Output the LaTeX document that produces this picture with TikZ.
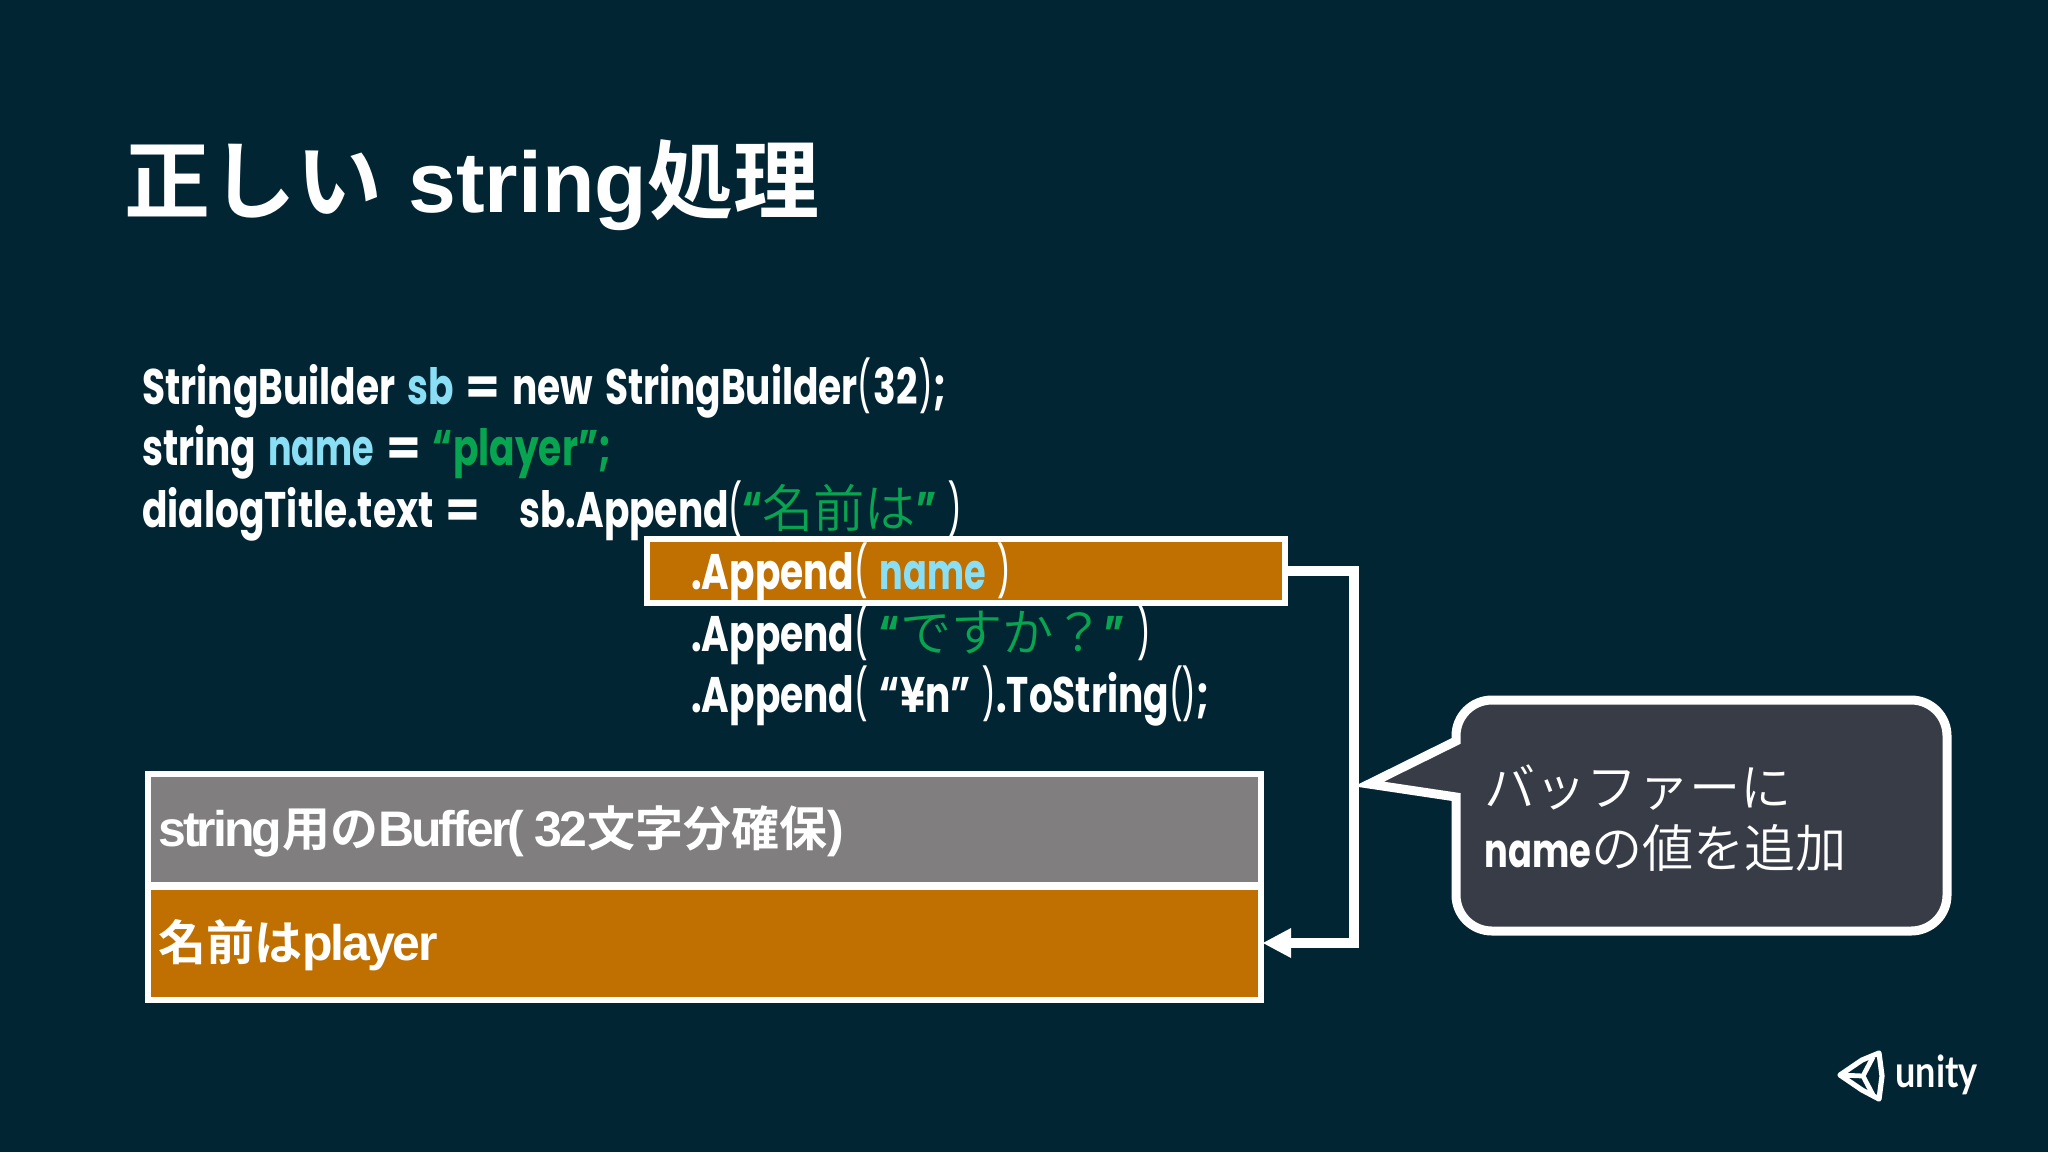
\documentclass[tikz,border=0pt]{standalone}
\usepackage{fontspec}
\newfontfamily\codef[FakeStretch=0.75,WordSpace=1.5]{Poppins Bold}
\newfontfamily\namef[FakeStretch=0.7]{Poppins Bold}
\newfontfamily\eqf{Poppins Bold}
\newfontfamily\parf[FakeStretch=0.55]{Poppins Medium}
\newfontfamily\jpl{Noto Sans CJK JP DemiLight}
\newfontfamily\jpb{Noto Sans CJK JP Bold}
\newfontfamily\lsb{Liberation Sans Bold}
\newfontfamily\lsc[LetterSpace=-4.8]{Liberation Sans Bold}
\newfontfamily\lsd[LetterSpace=-6]{Liberation Sans Bold}
\newfontfamily\uni[FakeStretch=0.82]{Lato Bold}
\definecolor{bgc}{HTML}{022534}
\definecolor{orangec}{HTML}{BF7000}
\definecolor{grayc}{HTML}{807E7F}
\definecolor{bubblec}{HTML}{373C46}
\definecolor{kw}{HTML}{8ADFF5}
\definecolor{str}{HTML}{08A550}
\newcommand{\js}[1]{{\jpl\fontsize{25.6}{25.6}\selectfont #1}}
\newcommand{\LP}{{\parf(}}
\newcommand{\RP}{{\parf)}}
\newcommand{\EQ}{{\eqf=}}
\newcommand{\NM}{\textcolor{kw}{\namef name}}
\newcommand{\lat}[1]{{\lsc\fontsize{25}{25}\selectfont #1}}
\newcommand{\latb}[1]{{\lsd\fontsize{25}{25}\selectfont #1}}
\tikzset{
 x=0.5pt,y=-0.5pt,
 code/.style={anchor=base west,inner sep=0,text=white,font=\codef\fontsize{25}{25}\selectfont},
 box/.style={draw=white,line width=3pt,inner sep=0,anchor=north west},
 boxtext/.style={anchor=base west,inner sep=0,text=white,font=\jpb\fontsize{24}{24}\selectfont},
 conn/.style={draw=white,line width=4.75pt},
}
\begin{document}
\begin{tikzpicture}
\fill[bgc] (0,0) rectangle (2048,1152);
\useasboundingbox (0,0) rectangle (2048,1152);
\node[anchor=base west,inner sep=0,text=white] (title) at (124,212) {\jpb\fontsize{43}{43}\selectfont 正しい\hspace{13pt}{\lsb string}処理};
\node[code] (l1) at (142,404) {StringBuilder \textcolor{kw}{sb} \EQ{} new StringBuilder\LP\hspace{1pt}32\hspace{1pt}\RP;};
\node[code] (l2) at (142,465) {string \NM{} \EQ{} \textcolor{str}{“player”;}};
\node[code] (l3) at (142,527) {dialogTitle.text \EQ};
\node[code] (l3b) at (519,527) {sb.Append\LP\textcolor{str}{“\js{名前は}”} \RP};
\node[box,fill=orangec,minimum width=318.75pt,minimum height=32pt] (hl) at (644,536) {};
\node[code] (l4) at (691,589) {.Append\LP{} \NM{} \RP};
\node[code] (l5) at (691,651) {.Append\LP{} \textcolor{str}{“\js{ですか？}”} \RP};
\node[code] (l6) at (691,712) {.Append\LP{} “¥n” \RP.ToString\LP\RP;};
\node[box,fill=grayc,minimum width=556.5pt,minimum height=55.5pt] (buf) at (145,771) {};
\node[box,fill=orangec,minimum width=556.5pt,minimum height=56.5pt] (fillb) at (145,884) {};
\node[boxtext] (t1) at (158,846) {\latb{string}用の\latb{Buffer( 32}文字分確保\latb{)}};
\node[boxtext] (t2) at (158,960) {名前は\lat{player}};
\coordinate (bend2) at (1354,943);
\coordinate (tip) at (1263,943);
\coordinate (base) at (1291,943);
\draw[conn] (hl.east) -| (bend2) -- (base);
\fill[white] (tip) -- (1291,928) -- (1291,958) -- cycle;
\draw[draw=white,line width=4.5pt,fill=bubblec,line join=miter]
 (1456,741) -- (1456,736) .. controls (1456,716) and (1472,700) .. (1492,700) -- (1911,700) .. controls (1931,700) and (1947,716) .. (1947,736) -- (1947,895) .. controls (1947,915) and (1931,931) .. (1911,931) -- (1492,931) .. controls (1472,931) and (1456,915) .. (1456,895) -- (1456,797) -- (1369,784) -- cycle;
\node[anchor=base west,inner sep=0,text=white] (c1) at (1484,806) {\js{バッファーに}};
\node[anchor=base west,inner sep=0,text=white] (c2) at (1484,867) {{\codef\fontsize{23.5}{23.5}\selectfont name}\js{の値を追加}};
\draw[white,line width=2.6pt,line join=round,fill=none] (1840,1075) -- (1862,1060) -- (1879,1053) -- (1882,1076) -- (1879,1099) -- (1862,1090) -- cycle;
\draw[white,line width=2.4pt] (1840,1075) -- (1863,1076) -- (1873,1057) (1863,1076) -- (1873,1095);
\node[anchor=base west,inner sep=0,text=white] (unity) at (1895,1087) {\uni\fontsize{22}{22}\selectfont unity};
\end{tikzpicture}
\end{document}
